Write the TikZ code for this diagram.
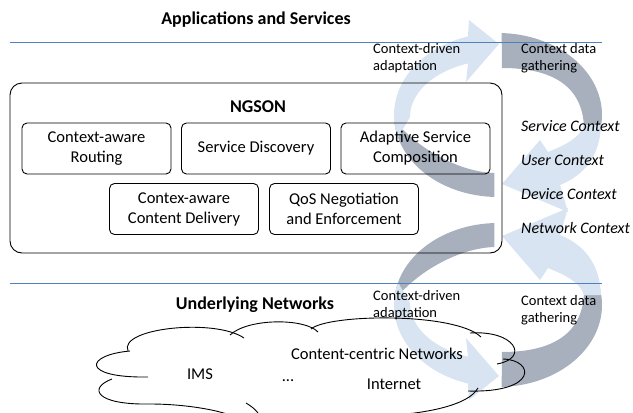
\documentclass[tikz,border=0pt]{standalone}
\usepackage{fontspec}
\setmainfont{Carlito}
\definecolor{lightband}{RGB}{216,228,241}
\definecolor{grayband}{RGB}{167,176,188}
\definecolor{seplinecol}{RGB}{79,129,189}
\newcommand{\loopshape}{%
  % gray crescent, left lower
  \fill[grayband] plot[domain=185:268, samples=40] ({498+104*cos(\x)},{115-82*sin(\x)})
     -- (494.4,173) .. controls (460,172) and (420,150) .. (397,123) -- cycle;
  % light band, left, with head at top
  \fill[lightband] plot[domain=196:106.8, samples=50] ({498+104*cos(\x)},{115-82*sin(\x)})
     -- (469,20) -- (499,44) -- (466,82)
     -- plot[domain=109.9:180, samples=40] ({498+88*cos(\x)},{117-57*sin(\x)}) -- cycle;
  % gray band, right upper
  \fill[grayband] plot[domain=88:-12, samples=50] ({498+104*cos(\x)},{115-82*sin(\x)})
     -- (584,128) .. controls (583,88) and (555,68) .. (502,68) -- cycle;
  % light band, right lower, with head
  \fill[lightband] (584,125) -- (601,125) .. controls (600,155) and (585,175) .. (560,185)
     -- (568,212) -- (502,184) -- (540,140) -- (548,152)
     .. controls (565,145) and (580,138) .. (584,125) -- cycle;
}
\begin{document}
\begin{tikzpicture}[x=1pt,y=-1pt,
  heading/.style={font=\bfseries\fontsize{18}{21}\selectfont, inner sep=0},
  fbox/.style={draw, line width=0.9pt, rounded corners=5pt, minimum width=149pt,
     minimum height=51pt, align=center, inner sep=0,
     font=\fontsize{16.5}{20}\selectfont},
  outerbox/.style={draw, line width=0.9pt, rounded corners=12pt, minimum width=492pt,
     minimum height=170pt, inner sep=0},
  lbl/.style={align=left, anchor=west, inner sep=0, font=\fontsize{14.5}{16.5}\selectfont},
  ctx/.style={anchor=west, inner sep=0, font=\itshape\fontsize{16}{19}\selectfont},
  cloudtxt/.style={inner sep=0, font=\fontsize{16.5}{19}\selectfont},
  sepline/.style={draw=seplinecol, line width=0.8pt},
  cloudline/.style={draw, line width=0.9pt}]
\useasboundingbox (0,0) rectangle (633,413);

% circular arrows
\loopshape
\begin{scope}[cm={1,0,0,-1,(0pt,-420pt)}]
  \loopshape
\end{scope}

% separator lines
\coordinate (s1a) at (10,42);
\coordinate (s1b) at (602,42);
\coordinate (s2a) at (10,283);
\coordinate (s2b) at (602,283);
\draw[sepline] (s1a) -- (s1b);
\draw[sepline] (s2a) -- (s2b);

% headings
\node[heading] (apps) at (256,20) {Applications and Services};
\node[heading] (under) at (255,305) {Underlying Networks};

% NGSON
\node[outerbox] (ngson) at (256,168) {};
\node[heading] (ngsonlbl) at (258,107) {NGSON};
\node[fbox] (b1) at (96.5,148.5) {Context-aware\\Routing};
\node[fbox] (b2) at (256,148.5) {Service Discovery};
\node[fbox] (b3) at (415.5,148.5) {Adaptive Service\\Composition};
\node[fbox] (b4) at (184,209) {Contex-aware\\Content Delivery};
\node[fbox] (b5) at (344,209) {QoS Negotiation\\and Enforcement};

% labels
\node[lbl] (cda1) at (373,58) {Context-driven\\adaptation};
\node[lbl] (cdg1) at (521,58) {Context data\\gathering};
\node[lbl] (cda2) at (373,305) {Context-driven\\adaptation};
\node[lbl] (cdg2) at (521,310) {Context data\\gathering};
\node[ctx] (sc) at (521,126) {Service Context};
\node[ctx] (uc) at (521,160) {User Context};
\node[ctx] (dc) at (521,194) {Device Context};
\node[ctx] (nc) at (521,228) {Network Context};

% cloud
\begin{scope}
\clip (0,0) rectangle (633,413);
\draw[cloudline] (130,351) .. controls (85,355) and (80,378) .. (148,377);
\draw[cloudline] (112,379) .. controls (88,388) and (95,405) .. (150,404)
   .. controls (190,404) and (230,412) .. (240,420);
\draw[cloudline] (246,403) .. controls (251,406) and (255,409) .. (258,413);
\draw[cloudline] (128,351) .. controls (118,328) and (215,318) .. (244,338);
\draw[cloudline] (230,335) .. controls (248,318) and (305,318) .. (318,332);
\draw[cloudline] (311,329) .. controls (328,314) and (455,312) .. (481,337);
\draw[cloudline] (470,333) .. controls (515,330) and (530,358) .. (497,364);
\draw[cloudline] (503,359) .. controls (535,360) and (538,393) .. (468,391);
\draw[cloudline] (478,388) .. controls (466,410) and (400,418) .. (345,416);
\end{scope}
\node[cloudtxt] (ccn) at (377,354) {Content-centric Networks};
\node[cloudtxt] (ims) at (200,374) {IMS};
\node[cloudtxt] (dots) at (288,381) {...};
\node[cloudtxt] (inet) at (394,384) {Internet};
\end{tikzpicture}
\end{document}
